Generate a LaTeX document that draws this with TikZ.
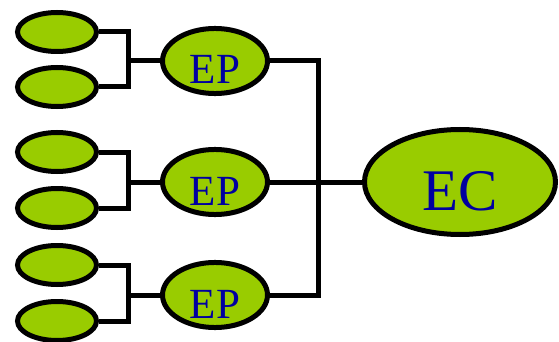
\documentclass[tikz,border=0pt]{standalone}
\usepackage{fontspec}
\setmainfont{Liberation Serif}
\usetikzlibrary{shapes.geometric}
\definecolor{leaf}{HTML}{99CC00}
\definecolor{ink}{HTML}{0000A0}
\tikzset{
  leafnode/.style={ellipse, draw=black, line width=5pt, fill=leaf, inner sep=0pt},
  small/.style={leafnode, minimum width=79pt, minimum height=39pt},
  epnode/.style={leafnode, minimum width=105pt, minimum height=54pt, text=ink,
    font=\fontsize{43}{43}\selectfont, text height=46pt, text depth=0pt},
  ecnode/.style={leafnode, minimum width=191pt, minimum height=105pt, text=ink,
    font=\fontsize{59}{59}\selectfont, text height=57pt, text depth=0pt},
  wire/.style={line width=5pt, line join=miter}
}
\begin{document}
\begin{tikzpicture}[x=1pt, y=-1pt]
\useasboundingbox (0,0) rectangle (559,342);
% small ellipses
\node[small] (s1) at (57,32) {};
\node[small] (s2) at (57,87) {};
\node[small] (s3) at (57,152) {};
\node[small] (s4) at (57,208) {};
\node[small] (s5) at (57,265) {};
\node[small] (s6) at (57,321) {};
% EP nodes
\node[epnode] (ep1) at (215,61) {EP};
\node[epnode] (ep2) at (215,182) {EP};
\node[epnode] (ep3) at (215,295) {EP};
% EC
\node[ecnode] (ec) at (460,182) {EC};
% junctions
\coordinate (j1) at (128,61);
\coordinate (j2) at (128,182);
\coordinate (j3) at (128,295);
\coordinate (k) at (318,182);
% brackets
\draw[wire] (s1.east) -| (j1) |- (s2.east);
\draw[wire] (j1) -- (ep1.west);
\draw[wire] (s3.east) -| (j2) |- (s4.east);
\draw[wire] (j2) -- (ep2.west);
\draw[wire] (s5.east) -| (j3) |- (s6.east);
\draw[wire] (j3) -- (ep3.west);
% right side
\draw[wire] (ep1.east) -| (k) |- (ep3.east);
\draw[wire] (ep2.east) -- (ec.west);
\end{tikzpicture}
\end{document}
